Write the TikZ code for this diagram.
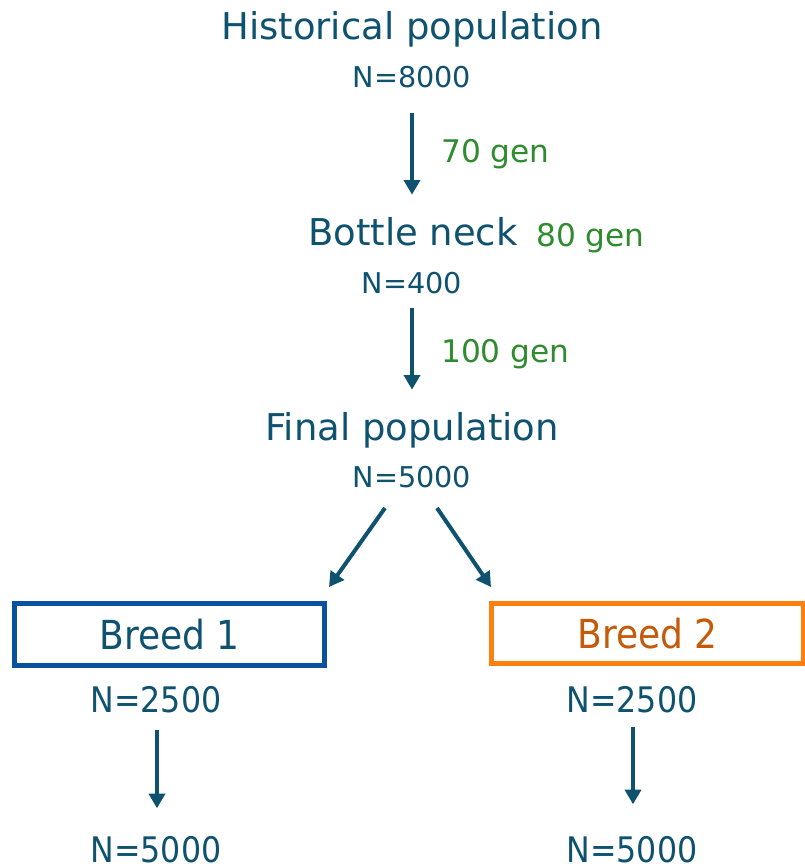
\documentclass[tikz,border=0pt]{standalone}
\usepackage{fontspec}
\setmainfont{DejaVu Sans}
\newfontfamily\condfont{DejaVu Sans Condensed}
\usetikzlibrary{arrows.meta}
\definecolor{popblue}{RGB}{14,82,112}
\definecolor{gengreen}{RGB}{46,139,46}
\definecolor{boxblue}{RGB}{8,82,160}
\definecolor{boxorange}{RGB}{255,127,14}
\definecolor{breedorange}{RGB}{196,90,10}
\begin{document}
\begin{tikzpicture}[x=0.75pt,y=-0.75pt]
\tikzstyle{every node}+=[inner sep=0pt, text=popblue]
\tikzstyle{title}=[anchor=base, font=\fontsize{27.7}{30}\selectfont]
\tikzstyle{size}=[anchor=base, font=\fontsize{21.5}{24}\selectfont]
\tikzstyle{gen}=[anchor=base west, text=gengreen, font=\fontsize{23.4}{26}\selectfont]
\tikzstyle{breedsize}=[anchor=base, font=\condfont\fontsize{26.4}{28}\selectfont]
\tikzstyle{breed}=[draw, line width=4pt, minimum height=46.25pt, font=\condfont\fontsize{30}{32}\selectfont]
\tikzstyle{flow}=[draw=popblue, line width=3pt, -{Triangle[width=12pt,length=11pt]}]
\useasboundingbox (0,0) rectangle (804,867);
% top part
\node [title] (hist) at (412,40) {Historical population};
\node [size] (hist-n) at (412,88) {N=8000};
\node [title] (bneck) at (413,245) {Bottle neck};
\node [size] (bneck-n) at (412,293) {N=400};
\node [title] (final) at (412,440) {Final population};
\node [size] (final-n) at (412,487) {N=5000};
\node [gen] (gen1) at (441,162) {70 gen};
\node [gen] (gen2) at (536,246) {80 gen};
\node [gen] (gen3) at (441,362) {100 gen};
\draw [flow, shorten <=18pt, shorten >=16.5pt] (hist-n.south) -- (hist-n.south |- bneck.north);
\draw [flow, shorten <=11pt, shorten >=16.5pt] (bneck-n.south) -- (bneck-n.south |- final.north);
% breeds
\node [breed, draw=boxblue, minimum width=232.25pt] (breed1) at (169.5,634.5) {Breed 1};
\node [breed, draw=boxorange, text=breedorange, minimum width=234pt, minimum height=44.75pt] (breed2) at (647.5,633.5) {Breed 2};
\coordinate (split1) at (385,508);
\coordinate (split2) at (437,508);
\coordinate (into1) at (329,587);
\coordinate (into2) at (491,587);
\draw [flow] (split1) -- (into1);
\draw [flow] (split2) -- (into2);
\node [breedsize] (breed1-n) at (156,712) {N=2500};
\node [breedsize] (breed2-n) at (632,712) {N=2500};
\node [breedsize] (breed1-end) at (156,862) {N=5000};
\node [breedsize] (breed2-end) at (632,862) {N=5000};
\draw [flow, shorten <=13pt, shorten >=20.5pt] ([xshift=0.75pt]breed1-n.south) -- ([xshift=0.75pt]breed1-n.south |- breed1-end.north);
\draw [flow, shorten <=10.5pt, shorten >=23.5pt] ([xshift=0.75pt]breed2-n.south) -- ([xshift=0.75pt]breed2-n.south |- breed2-end.north);
\end{tikzpicture}
\end{document}
